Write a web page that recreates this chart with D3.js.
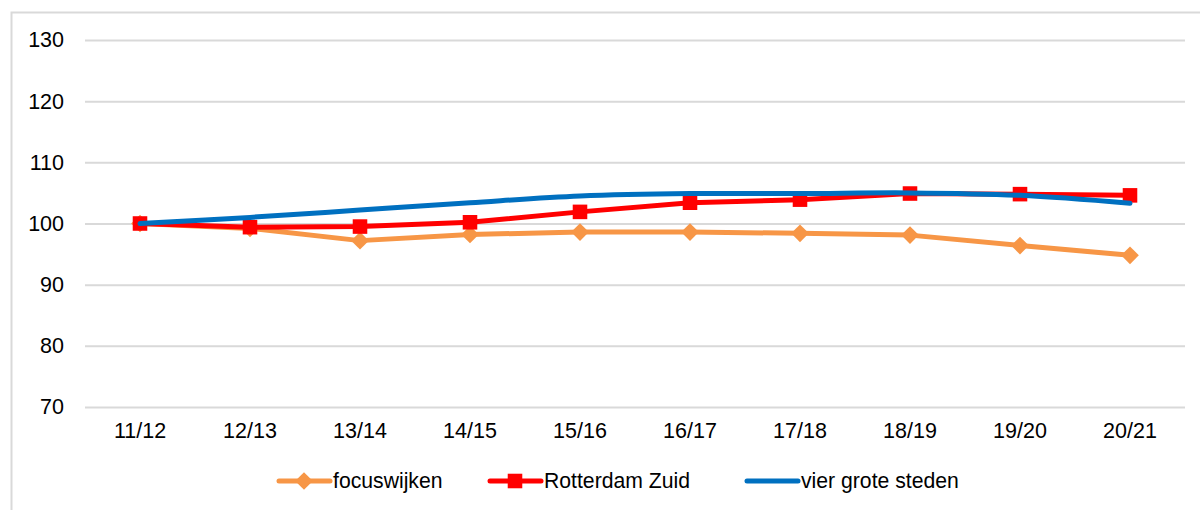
<!DOCTYPE html>
<html>
<head>
<meta charset="utf-8">
<script src="https://cdn.jsdelivr.net/npm/d3@7"></script>
<style>
  body { margin: 0; background: #fff; }
  svg { display: block; font-family: "Liberation Sans", Arial, sans-serif; }
</style>
</head>
<body>
<div id="chart"></div>
<script>
// data
const seasons = ['11/12', '12/13', '13/14', '14/15', '15/16', '16/17', '17/18', '18/19', '19/20', '20/21'];
const focuswijken = [100, 99.2, 97.2, 98.2, 98.6, 98.6, 98.4, 98.1, 96.4, 94.8];
const rotterdamZuid = [100, 99.4, 99.5, 100.2, 101.9, 103.4, 103.9, 104.9, 104.8, 104.6];
const vierGroteSteden = [100, 101.0, 102.2, 103.4, 104.5, 104.9, 104.9, 105.0, 104.6, 103.3];
const yTicks = [70, 80, 90, 100, 110, 120, 130];

const width = 1200, height = 510;
const margin = { top: 40, left: 85, bottom: 103, right: 15 };

const svg = d3.select('#chart').append('svg')
    .attr('width', width)
    .attr('height', height);

// outer frame
svg.append('rect')
    .attr('x', 11.5).attr('y', 12.5)
    .attr('width', width + 10).attr('height', height + 10)
    .attr('fill', 'none')
    .attr('stroke', '#d9d9d9')
    .attr('stroke-width', 2);

// scales
const x = d3.scaleBand()
    .domain(seasons)
    .range([margin.left, width - margin.right]);
const y = d3.scaleLinear()
    .domain([70, 130])
    .range([height - margin.bottom, margin.top]);
const cx = d => x(d) + x.bandwidth() / 2;

// gridlines + y labels
const yAxis = g => g
    .attr('transform', `translate(${margin.left},0)`)
    .call(d3.axisLeft(y).tickValues(yTicks).tickSize(-(width - margin.left - margin.right)).tickPadding(21))
    .call(g => g.select('.domain').remove())
    .call(g => g.selectAll('.tick line').attr('stroke', '#d9d9d9').attr('stroke-width', 2))
    .call(g => g.selectAll('.tick text').attr('fill', '#000').style('font-size', '21.5px').attr('font-family', null));
svg.append('g').call(yAxis);

// x labels
const xAxis = g => g
    .attr('transform', `translate(0,${height - margin.bottom})`)
    .call(d3.axisBottom(x).tickSize(0).tickPadding(16))
    .call(g => g.select('.domain').remove())
    .call(g => g.selectAll('.tick text').attr('fill', '#000').style('font-size', '21.5px').attr('font-family', null));
svg.append('g').call(xAxis);

const series = [
    { name: 'focuswijken', values: focuswijken, color: '#f79646', marker: 'diamond', curve: d3.curveLinear },
    { name: 'Rotterdam Zuid', values: rotterdamZuid, color: '#ff0000', marker: 'square', curve: d3.curveLinear },
    { name: 'vier grote steden', values: vierGroteSteden, color: '#0070c0', marker: null, curve: d3.curveCatmullRom.alpha(0.5) }
];

const diamond = d3.symbol().type(d3.symbolDiamond2).size(200);
const square = d3.symbol().type(d3.symbolSquare2).size(270);

series.forEach(s => {
    const line = d3.line()
        .x((d, i) => cx(seasons[i]))
        .y(d => y(d))
        .curve(s.curve);
    svg.append('path')
        .datum(s.values)
        .attr('fill', 'none')
        .attr('stroke', s.color)
        .attr('stroke-width', 5)
        .attr('stroke-linejoin', 'round')
        .attr('stroke-linecap', 'round')
        .attr('d', line);
    if (s.marker) {
        svg.append('g').selectAll('path')
            .data(s.values)
            .join('path')
            .attr('d', s.marker === 'square' ? square : diamond)
            .attr('transform', (d, i) => `translate(${cx(seasons[i])},${y(d)})`)
            .attr('fill', s.color)
            .attr('stroke', 'none');
    }
});

// legend
const legendX = [277, 488, 745];
const legendY = 481;
const legend = svg.append('g');
series.forEach((s, i) => {
    const g = legend.append('g').attr('transform', `translate(${legendX[i]},${legendY})`);
    g.append('line')
        .attr('x1', 2).attr('x2', 53)
        .attr('stroke', s.color)
        .attr('stroke-width', 5)
        .attr('stroke-linecap', 'round');
    if (s.marker) {
        g.append('path')
            .attr('d', s.marker === 'square' ? square : diamond)
            .attr('transform', 'translate(27,0)')
            .attr('fill', s.color);
    }
    g.append('text')
        .attr('x', 56)
        .attr('dy', '0.35em')
        .style('font-size', '21.2px')
        .attr('fill', '#000')
        .text(s.name);
});
</script>
</body>
</html>
